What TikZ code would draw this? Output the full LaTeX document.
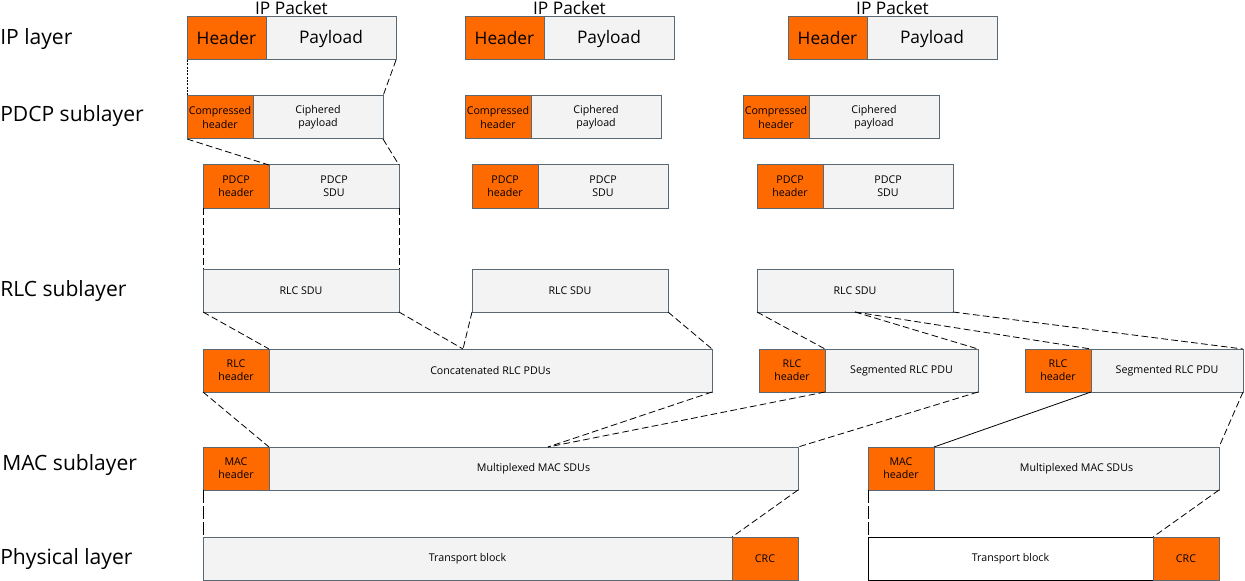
\documentclass[tikz,border=0pt]{standalone}
\usepackage{fontspec}
\setmainfont{Open Sans}
\usetikzlibrary{positioning}
\definecolor{hdrorange}{RGB}{255,106,0}
\definecolor{boxgray}{RGB}{243,243,243}
\definecolor{edgegray}{RGB}{90,104,116}

\begin{document}
\begin{tikzpicture}[x=0.75pt, y=-0.75pt,
	box/.style={draw=edgegray, fill=boxgray, line width=0.75pt, inner sep=0pt, outer sep=0pt,
	anchor=north west, minimum height=32.25pt, align=center, font=\fontsize{8}{10}\selectfont},
	hdr/.style={box, fill=hdrorange}, big/.style={font=\fontsize{13}{15}\selectfont},
	wd/.style={minimum width=#1*0.75pt},
	lyr/.style={anchor=base west, inner sep=0pt, font=\fontsize{15.8}{18}\selectfont},
	dsh/.style={line width=0.6pt, dash pattern=on 5pt off 2.5pt},
	dot/.style={line width=0.6pt, dash pattern=on 1.5pt off 1pt}]
\useasboundingbox (0,0) rectangle (1245,581);
\node[lyr] (L1) at (0,45) {IP layer};
\node[lyr] (L2) at (0,122) {PDCP sublayer};
\node[lyr] (L3) at (0,296) {RLC sublayer};
\node[lyr] (L4) at (2,470) {MAC sublayer};
\node[lyr] (L5) at (0,564) {Physical layer};
\node[big, anchor=base] (k1) at (291.5,15) {IP Packet};
\node[big, anchor=base] (k2) at (569.5,15) {IP Packet};
\node[big, anchor=base] (k3) at (892.5,15) {IP Packet};
\node[hdr, big, wd=79] (ip1h) at (187,17) {Header};
\node[box, big, wd=130, right=0pt of ip1h] (ip1p) {Payload};
\node[hdr, big, wd=79] (ip2h) at (465,17) {Header};
\node[box, big, wd=130, right=0pt of ip2h] (ip2p) {Payload};
\node[hdr, big, wd=79] (ip3h) at (788,17) {Header};
\node[box, big, wd=130, right=0pt of ip3h] (ip3p) {Payload};
\node[hdr, wd=66] (cp1h) at (187,96) {Compressed\\header};
\node[box, wd=130, right=0pt of cp1h] (cp1p) {Ciphered\\payload};
\node[hdr, wd=66] (cp2h) at (465,96) {Compressed\\header};
\node[box, wd=130, right=0pt of cp2h] (cp2p) {Ciphered\\payload};
\node[hdr, wd=66] (cp3h) at (743,96) {Compressed\\header};
\node[box, wd=130, right=0pt of cp3h] (cp3p) {Ciphered\\payload};
\node[hdr, wd=66] (pd1h) at (203,165) {PDCP\\header};
\node[box, wd=130, right=0pt of pd1h] (pd1p) {PDCP\\SDU};
\node[hdr, wd=66] (pd2h) at (472,165) {PDCP\\header};
\node[box, wd=130, right=0pt of pd2h] (pd2p) {PDCP\\SDU};
\node[hdr, wd=66] (pd3h) at (757,165) {PDCP\\header};
\node[box, wd=130, right=0pt of pd3h] (pd3p) {PDCP\\SDU};
\node[box, wd=196] (rs1) at (203,269) {RLC SDU};
\node[box, wd=196] (rs2) at (472,269) {RLC SDU};
\node[box, wd=196] (rs3) at (757,269) {RLC SDU};
\node[hdr, wd=66] (rp1h) at (203,349) {RLC\\header};
\node[box, wd=443, right=0pt of rp1h] (rp1p) {Concatenated RLC PDUs};
\node[hdr, wd=66] (rp2h) at (759,349) {RLC\\header};
\node[box, wd=153, right=0pt of rp2h] (rp2p) {Segmented RLC PDU};
\node[hdr, wd=66] (rp3h) at (1025,349) {RLC\\header};
\node[box, wd=152, right=0pt of rp3h] (rp3p) {Segmented RLC PDU};
\node[hdr, wd=66] (mc1h) at (203,447) {MAC\\header};
\node[box, wd=529, right=0pt of mc1h] (mc1p) {Multiplexed MAC SDUs};
\node[hdr, wd=66] (mc2h) at (868,447) {MAC\\header};
\node[box, wd=285, right=0pt of mc2h] (mc2p) {Multiplexed MAC SDUs};
\node[box, wd=529] (tb1) at (203,537) {Transport block};
\node[hdr, wd=66, right=0pt of tb1] (crc1) {CRC};
\node[box, fill=white, draw=black, wd=285] (tb2) at (868,537) {Transport block};
\node[hdr, wd=66, right=0pt of tb2] (crc2) {CRC};
\coordinate (cat) at (463,349);
\coordinate (mux) at (548,447);
\draw[dot] (ip1h.south west) to (cp1h.north west);
\draw[dsh] (ip1p.south east) to (cp1p.north east);
\draw[dsh] (cp1h.south west) to (pd1h.north east);
\draw[dsh] (cp1p.south east) to (pd1p.north east);
\draw[dsh] (pd1h.south west) to (rs1.north west);
\draw[dsh] (pd1p.south east) to (rs1.north east);
\draw[dsh] (rs1.south west) to (rp1h.north east);
\draw[dsh] (rs1.south east) to (cat);
\draw[dsh] (rs2.south west) to (cat);
\draw[dsh] (rs2.south east) to (rp1p.north east);
\draw[dsh] (rs3.south west) to (rp2h.north east);
\draw[dsh] (rs3.south) to (rp2p.north east);
\draw[dsh] (rs3.south) to (rp3h.north east);
\draw[dsh] (rs3.south east) to (rp3p.north east);
\draw[dsh] (rp1h.south west) to (mc1h.north east);
\draw[dsh] (rp1p.south east) to (mux);
\draw[dsh] (rp2h.south east) to (mux);
\draw[dsh] (rp2p.south east) to (mc1p.north east);
\draw[line width=0.6pt] (rp3h.south east) to (mc2h.north east);
\draw[dsh] (rp3p.south east) to (mc2p.north east);
\draw[dsh, dash pattern=on 10pt off 2pt] (mc1h.south west) to (tb1.north west);
\draw[dsh] (mc1p.south east) to (crc1.north west);
\draw[dsh, dash pattern=on 10pt off 2pt] (mc2h.south west) to (tb2.north west);
\draw[dsh] (mc2p.south east) to (crc2.north west);
\end{tikzpicture}
\end{document}
